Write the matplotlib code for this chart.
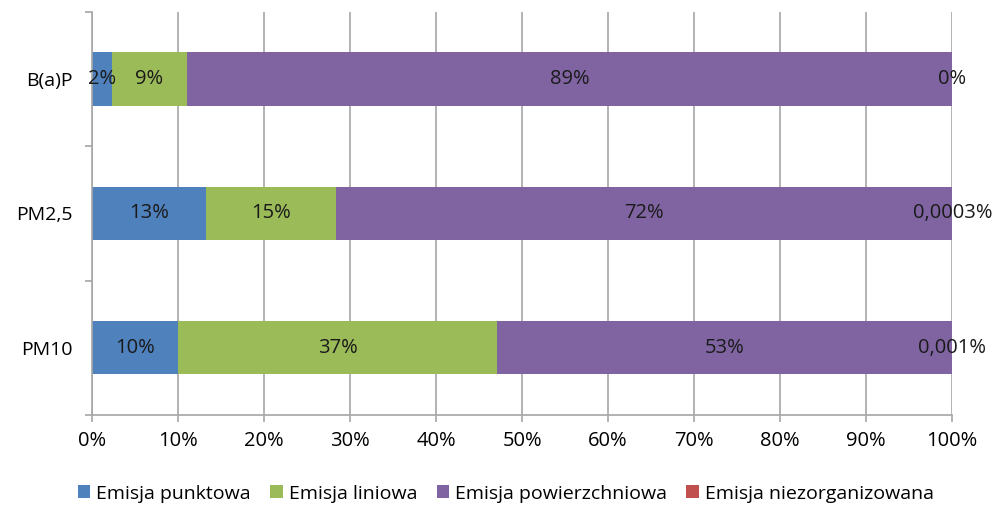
import matplotlib.pyplot as plt
from matplotlib.ticker import FixedLocator, PercentFormatter

plt.rcParams['font.family'] = ['Open Sans', 'DejaVu Sans']

categories = ["PM10", "PM2,5", "B(a)P"]
series = ["Emisja punktowa", "Emisja liniowa", "Emisja powierzchniowa", "Emisja niezorganizowana"]
colors = ["#4F81BD", "#9BBB59", "#8064A2", "#C0504D"]

punktowa = [10.0, 13.2, 2.3]
liniowa = [37.1, 15.2, 8.75]
powierzchniowa = [52.899, 71.5997, 88.95]
niezorganizowana = [0.001, 0.0003, 0.0]

labels = [
    ["10%", "13%", "2%"],
    ["37%", "15%", "9%"],
    ["53%", "72%", "89%"],
    ["0,001%", "0,0003%", "0%"],
]

values = [punktowa, liniowa, powierzchniowa, niezorganizowana]

fig, ax = plt.subplots(figsize=(9.94, 5.07), dpi=100)
fig.subplots_adjust(left=0.0925, right=0.958, top=0.976, bottom=0.182)

left = [0.0] * len(categories)
for vals, name, col, labs in zip(values, series, colors, labels):
    bars = ax.barh(categories, vals, left=left, height=0.4, color=col, label=name, zorder=2)
    ax.bar_label(bars, labels=labs, label_type="center", fontsize=14.5, color="#1a1a1a", zorder=3)
    left = [a + b for a, b in zip(left, vals)]

ax.set_xlim(0, 100)
ax.set_ylim(-0.5, 2.5)
ax.set_xticks(range(0, 101, 10))
ax.xaxis.set_major_formatter(PercentFormatter(decimals=0))
ax.grid(axis="x", color="#A6A6A6", linewidth=1.2, zorder=0)
ax.set_axisbelow(True)

ax.yaxis.set_minor_locator(FixedLocator([-0.5, 0.5, 1.5, 2.5]))
ax.tick_params(axis="y", which="major", length=0, labelsize=14, pad=14)
ax.tick_params(axis="y", which="minor", length=5, color="#A6A6A6", width=1.2)
ax.tick_params(axis="x", length=5, color="#A6A6A6", width=1.2, labelsize=14.5, pad=7)

for s in ["top", "right"]:
    ax.spines[s].set_visible(False)
for s in ["left", "bottom"]:
    ax.spines[s].set_color("#A6A6A6")
    ax.spines[s].set_linewidth(1.2)

ax.legend(loc="upper center", bbox_to_anchor=(0.481, -0.13), ncol=4, frameon=False,
          fontsize=14, handlelength=0.65, handleheight=0.65, handletextpad=0.3, columnspacing=1.0)

plt.savefig("out.png", dpi=100)
